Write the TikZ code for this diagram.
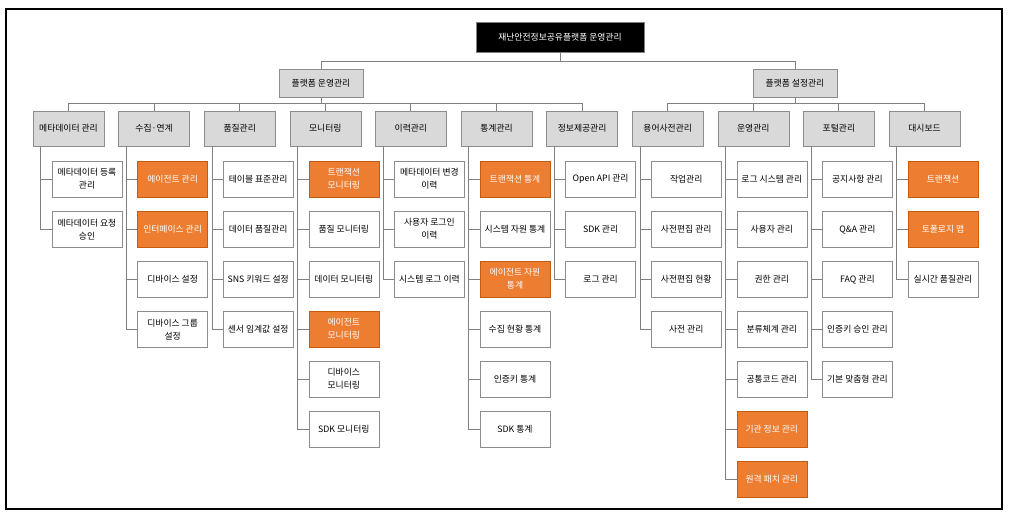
\documentclass[tikz,border=0pt]{standalone}
\usepackage{fontspec}
\newfontfamily\krfont{Noto Sans CJK KR}
\usepackage{tikz}
\usetikzlibrary{calc,chains,positioning}
\definecolor{hotorange}{HTML}{ED7D31}
\definecolor{hotedge}{HTML}{C55A11}
\definecolor{boxgray}{HTML}{D9D9D9}
\definecolor{edgegray}{HTML}{8C8C8C}
\definecolor{wiregray}{HTML}{7F7F7F}

\begin{document}
\begin{tikzpicture}[
x=1pt, y=-1pt,
font=\krfont\fontsize{8.8}{13}\selectfont,
box/.style={rectangle, draw, align=center, inner sep=1.5pt},
root/.style={box, fill=black, draw=gray, text=white,
	minimum width=168pt, minimum height=30pt},
head/.style={box, fill=boxgray, draw=edgegray,
	minimum width=84pt, minimum height=28pt},
menu/.style={box, fill=boxgray, draw=edgegray,
	minimum width=71pt, minimum height=35pt, on chain},
leaf/.style={box, fill=white, draw=edgegray,
	minimum width=70pt, minimum height=35.5pt},
hot/.style={leaf, fill=hotorange, draw=hotedge, text=white},
wire/.style={draw=wiregray, line width=0.9pt},
start chain=going right, node distance=14.2pt
]
\useasboundingbox (0,0) rectangle (1010,514);
\draw[line width=1.3pt] (6,9) rectangle (1002,509);

% top levels
\node[root] (root) at (560,37.5) {재난안전정보공유플랫폼 운영관리};
\node[head] (ops) at (321,83) {플랫폼 운영관리};
\node[head] (cfg) at (795,83) {플랫폼 설정관리};
\draw[wire] (root.south) -- ++(0,8.25) -| (ops.north);
\draw[wire] (root.south) -- ++(0,8.25) -| (cfg.north);

% menu row
\node[menu] (g1) at (68.5,128.5) {메타데이터 관리};
\node[menu] (g2) {수집·연계};
\node[menu] (g3) {품질관리};
\node[menu] (g4) {모니터링};
\node[menu] (g5) {이력관리};
\node[menu] (g6) {통계관리};
\node[menu] (g7) {정보제공관리};
\node[menu] (g8) {용어사전관리};
\node[menu] (g9) {운영관리};
\node[menu] (g10) {포털관리};
\node[menu] (g11) {대시보드};
\foreach \i in {1,...,7}
	\draw[wire] (ops.south) -- ++(0,6.5) -| (g\i.north);
\foreach \i in {8,...,11}
	\draw[wire] (cfg.south) -- ++(0,6.5) -| (g\i.north);

% sub menus
\foreach \kind/\txt [count=\k] in {leaf/{메타데이터 등록\\관리}, leaf/{메타데이터 요청\\승인}}
{
	\draw[wire] ([xshift=8pt]g1.south west) |- ($(g1.south)+(0,50*\k-17)$);
	\node[\kind] (g1-\k) at ($(g1.south)+(18.5,50*\k-17)$) {\txt};
}
\foreach \kind/\txt [count=\k] in {hot/에이전트 관리, hot/인터페이스 관리, leaf/디바이스 설정, leaf/{디바이스 그룹\\설정}}
{
	\draw[wire] ([xshift=8pt]g2.south west) |- ($(g2.south)+(0,50*\k-17)$);
	\node[\kind] (g2-\k) at ($(g2.south)+(18.5,50*\k-17)$) {\txt};
}
\foreach \kind/\txt [count=\k] in {leaf/테이블 표준관리, leaf/데이터 품질관리, leaf/SNS 키워드 설정, leaf/센서 임계값 설정}
{
	\draw[wire] ([xshift=8pt]g3.south west) |- ($(g3.south)+(0,50*\k-17)$);
	\node[\kind] (g3-\k) at ($(g3.south)+(18.5,50*\k-17)$) {\txt};
}
\foreach \kind/\txt [count=\k] in {hot/{트랜잭션\\모니터링}, leaf/품질 모니터링, leaf/데이터 모니터링, hot/{에이전트\\모니터링}, leaf/{디바이스\\모니터링}, leaf/SDK 모니터링}
{
	\draw[wire] ([xshift=8pt]g4.south west) |- ($(g4.south)+(0,50*\k-17)$);
	\node[\kind] (g4-\k) at ($(g4.south)+(18.5,50*\k-17)$) {\txt};
}
\foreach \kind/\txt [count=\k] in {leaf/{메타데이터 변경\\이력}, leaf/{사용자 로그인\\이력}, leaf/시스템 로그 이력}
{
	\draw[wire] ([xshift=8pt]g5.south west) |- ($(g5.south)+(0,50*\k-17)$);
	\node[\kind] (g5-\k) at ($(g5.south)+(18.5,50*\k-17)$) {\txt};
}
\foreach \kind/\txt [count=\k] in {hot/트랜잭션 통계, leaf/시스템 자원 통계, hot/{에이전트 자원\\통계}, leaf/수집 현황 통계, leaf/인증키 통계, leaf/SDK 통계}
{
	\draw[wire] ([xshift=8pt]g6.south west) |- ($(g6.south)+(0,50*\k-17)$);
	\node[\kind] (g6-\k) at ($(g6.south)+(18.5,50*\k-17)$) {\txt};
}
\foreach \kind/\txt [count=\k] in {leaf/Open API 관리, leaf/SDK 관리, leaf/로그 관리}
{
	\draw[wire] ([xshift=8pt]g7.south west) |- ($(g7.south)+(0,50*\k-17)$);
	\node[\kind] (g7-\k) at ($(g7.south)+(18.5,50*\k-17)$) {\txt};
}
\foreach \kind/\txt [count=\k] in {leaf/작업관리, leaf/사전편집 관리, leaf/사전편집 현황, leaf/사전 관리}
{
	\draw[wire] ([xshift=8pt]g8.south west) |- ($(g8.south)+(0,50*\k-17)$);
	\node[\kind] (g8-\k) at ($(g8.south)+(18.5,50*\k-17)$) {\txt};
}
\foreach \kind/\txt [count=\k] in {leaf/로그 시스템 관리, leaf/사용자 관리, leaf/권한 관리, leaf/분류체계 관리, leaf/공통코드 관리, hot/기관 정보 관리, hot/원격 패치 관리}
{
	\draw[wire] ([xshift=8pt]g9.south west) |- ($(g9.south)+(0,50*\k-17)$);
	\node[\kind] (g9-\k) at ($(g9.south)+(18.5,50*\k-17)$) {\txt};
}
\foreach \kind/\txt [count=\k] in {leaf/공지사항 관리, leaf/Q\&A 관리, leaf/FAQ 관리, leaf/인증키 승인 관리, leaf/기본 맞춤형 관리}
{
	\draw[wire] ([xshift=8pt]g10.south west) |- ($(g10.south)+(0,50*\k-17)$);
	\node[\kind] (g10-\k) at ($(g10.south)+(18.5,50*\k-17)$) {\txt};
}
\foreach \kind/\txt [count=\k] in {hot/트랜잭션, hot/토폴로지 맵, leaf/실시간 품질관리}
{
	\draw[wire] ([xshift=8pt]g11.south west) |- ($(g11.south)+(0,50*\k-17)$);
	\node[\kind] (g11-\k) at ($(g11.south)+(18.5,50*\k-17)$) {\txt};
}
\end{tikzpicture}
\end{document}
